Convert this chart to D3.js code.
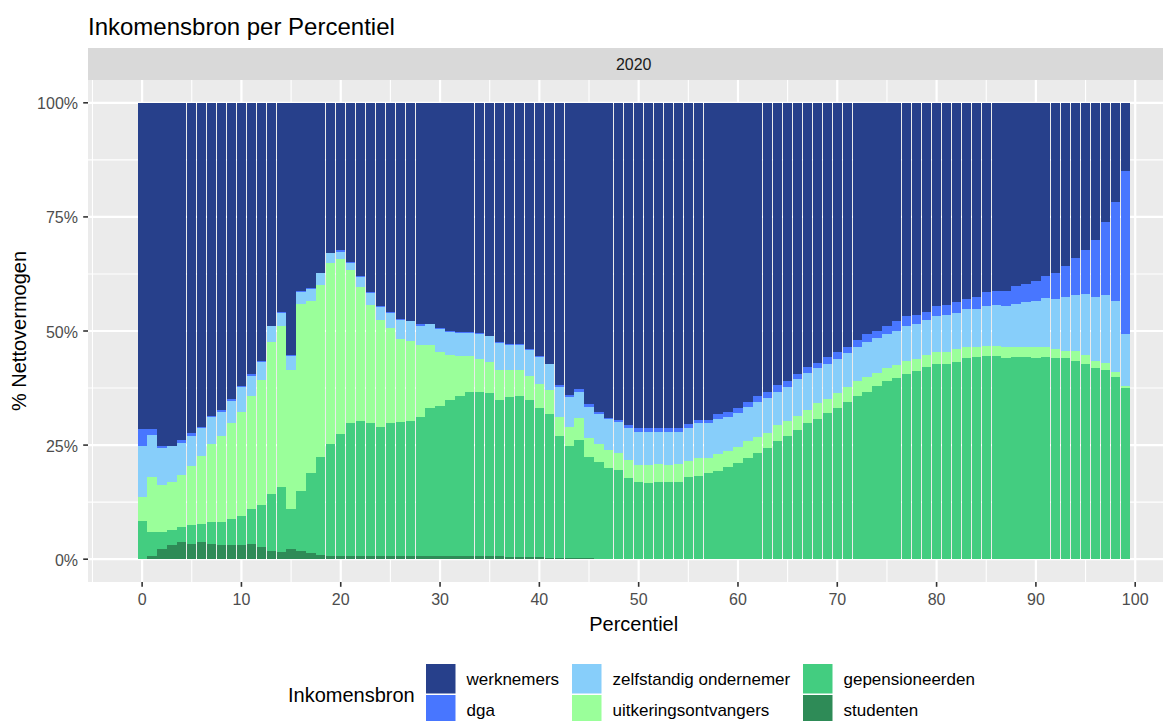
<!DOCTYPE html>
<html>
<head>
<meta charset="utf-8">
<script src="https://cdn.jsdelivr.net/npm/d3@7"></script>
<style>
  html, body { margin: 0; padding: 0; background: #fff; overflow: hidden; }
  svg { display: block; font-family: "Liberation Sans", Arial, sans-serif; }
</style>
</head>
<body>
<svg id="chart" width="1163" height="721"></svg>
<script>
// Inkomensbron per Percentiel - stacked (fill) bars, facet 2020
const percentiles = d3.range(0, 100);

const studenten = [0,0.7,2.2,3.1,3.7,3.4,3.7,3.4,3.1,3.1, 3.1,3.4,2.6,1.9,1.6,2.2,1.9,1.3,1.0,0.7,
  0.7,0.7,0.7,0.7,0.7,0.7,0.7,0.7,0.7,0.7, 0.7,0.7,0.7,0.7,0.7,0.7,0.7,0.45,0.45,0.45,
  0.45,0.3,0.3,0.3,0.3,0.3,0,0,0,0, 0,0,0,0,0,0,0,0,0,0,
  0,0,0,0,0,0,0,0,0,0, 0,0,0,0,0,0,0,0,0,0,
  0,0,0,0,0,0,0,0,0,0, 0,0,0,0,0,0,0,0,0,0];
const gepensioneerden = [8.3,5.2,3.7,3.4,3.4,4.1,4.0,4.8,5.1,5.7, 6.4,7.6,9.3,12.5,14.3,8.8,13.0,17.5,21.5,24.5,
  26.7,29.1,29.7,29.1,28.3,29.1,29.3,29.7,30.5,32.4, 32.9,34.2,35.1,36.0,36.0,35.7,34.2,35.0,35.4,34.5,
  32.7,31.5,26.7,24.6,25.8,22.2,21.2,20.0,19.5,17.7, 17.0,16.8,17.0,17.0,17.0,17.9,18.3,18.8,19.4,20.3,
  21.0,22.1,23.3,24.3,25.9,27.0,28.3,29.8,30.7,32.1, 33.1,34.5,35.8,36.7,38.0,39.1,39.6,40.6,41.3,42.1,
  42.8,42.8,43.3,44.0,44.3,44.5,44.5,44.0,44.3,44.3, 44.0,44.3,44.0,44.0,43.5,42.7,41.8,41.5,40.0,37.6];
const uitkeringsontvangers = [5.4,12.0,10.3,10.5,11.3,12.9,15.0,17.0,18.8,21.0, 22.8,24.8,27.4,33.3,35.2,30.5,41.0,37.8,37.7,39.8,
  38.4,33.5,29.2,25.9,23.4,20.8,18.4,17.4,15.8,13.9, 11.9,9.9,8.8,7.9,7.1,6.9,6.6,6.1,5.7,5.3,
  5.3,5.4,4.2,4.1,4.8,4.1,4.0,3.9,3.8,4.0, 3.6,3.8,3.8,3.6,3.8,3.7,3.8,3.3,3.6,3.4,
  3.5,3.7,3.4,3.3,3.5,3.3,3.1,2.9,3.5,2.9, 3.3,3.3,3.3,3.3,2.9,2.7,3.0,2.9,2.5,2.7,
  2.7,2.7,2.7,2.6,2.3,2.3,2.3,2.4,2.3,2.3, 2.4,2.3,2.0,1.7,2.2,2.1,1.7,1.4,1.1,0.4];
const zelfstandig = [11.2,9.3,8.1,7.7,7.1,6.6,6.1,6.0,5.3,4.9, 5.4,4.4,4.0,3.4,3.0,3.1,2.8,2.7,2.5,2.1,
  1.6,1.7,2.4,2.7,3.0,3.5,4.1,4.4,4.2,4.5, 4.9,5.1,5.1,5.1,5.5,5.6,5.8,5.5,5.5,5.7,
  6.0,5.6,6.6,6.5,5.8,6.8,6.6,6.8,6.7,7.1, 7.3,7.3,7.1,7.3,7.1,7.2,7.7,7.7,7.7,7.5,
  7.6,7.5,7.7,7.8,7.3,7.5,8.0,8.0,7.6,7.8, 7.5,7.3,7.5,7.5,7.5,7.6,7.5,7.7,7.7,7.7,
  7.8,8.0,7.9,8.2,8.2,8.6,8.9,9.0,9.4,9.7, 10.2,10.6,11.0,11.7,12.1,13.4,13.9,14.9,15.5,11.3];
const dga = [3.6,1.3,0.6,0.2,0.6,0.6,0.2,0.2,0.4,0.3, 0.2,0.3,0.2,0.1,0.1,0.1,0.1,0.1,0.1,0.1,
  0.3,0.2,0.1,0.1,0.1,0.1,0.1,0.1,0.3,0.1, 0.2,0.1,0.1,0.1,0.2,0.1,0.2,0.2,0.2,0.1,
  0.1,0.1,0.4,0.5,0.5,0.6,0.5,0.3,0.5,0.6, 0.8,0.8,0.8,0.8,0.8,0.8,0.7,0.7,1.1,1.1,
  1.1,1.2,1.4,1.2,1.5,1.3,1.2,1.4,1.1,1.4, 1.4,1.5,1.5,1.8,1.5,1.7,2.0,2.1,2.0,1.6,
  2.1,2.2,2.4,2.3,2.7,3.1,3.0,3.3,3.9,3.9, 4.3,4.8,5.7,6.8,8.2,9.6,12.5,16.0,21.7,35.7];
const werknemers = [71.5,71.5,75.1,75.1,73.9,72.4,71.0,68.6,67.3,65.0, 62.1,59.5,56.5,48.9,45.9,55.4,41.3,40.7,37.3,32.9,
  32.3,34.8,38.0,41.6,44.6,45.9,47.5,47.8,48.5,48.5, 49.4,50.1,50.3,50.3,50.5,51.1,52.5,52.8,52.8,54.1,
  55.6,57.2,61.8,64.0,62.8,66.0,67.7,69.0,69.5,70.6, 71.3,71.3,71.3,71.3,71.3,70.4,69.5,69.5,68.2,67.7,
  66.8,65.5,64.2,63.4,61.8,60.9,59.4,57.9,57.1,55.8, 54.7,53.4,51.9,50.7,50.1,48.9,47.9,46.7,46.5,45.9,
  44.6,44.3,43.7,42.9,42.5,41.5,41.3,41.3,40.1,39.8, 39.1,38.0,37.3,35.8,34.0,32.2,30.1,26.2,21.7,15.0];

// stack order bottom -> top
const seriesNames = ['studenten', 'gepensioneerden', 'uitkeringsontvangers', 'zelfstandig ondernemer', 'dga', 'werknemers'];
const seriesValues = [studenten, gepensioneerden, uitkeringsontvangers, zelfstandig, dga, werknemers];
const seriesColors = ['#2E8B57', '#43CD80', '#9AFF9A', '#87CEFA', '#4876FF', '#27408B'];
// legend order (column-major, 2 rows)
const legendOrder = ['werknemers', 'dga', 'zelfstandig ondernemer', 'uitkeringsontvangers', 'gepensioneerden', 'studenten'];

const xTicks = d3.range(0, 101, 10);
const yTicks = [0, 0.25, 0.5, 0.75, 1];

const rows = percentiles.map((p, i) => {
    const r = { p };
    seriesNames.forEach((s, k) => { r[s] = seriesValues[k][i]; });
    return r;
});
const stacked = d3.stack().keys(seriesNames).offset(d3.stackOffsetExpand)(rows);
const color = d3.scaleOrdinal().domain(seriesNames).range(seriesColors);

const svg = d3.select('#chart');
const panel = { left: 88, top: 80, right: 1179.4, bottom: 582 };

const x = d3.scaleLinear().domain([-5.45, 104.45]).range([panel.left, panel.right]);
const y = d3.scaleLinear().domain([-0.05, 1.05]).range([panel.bottom, panel.top]);

// title
svg.append('text').attr('x', 88).attr('y', 35)
    .attr('font-size', 24).attr('fill', '#000')
    .text('Inkomensbron per Percentiel');

// strip
svg.append('rect').attr('x', panel.left).attr('y', 48)
    .attr('width', panel.right - panel.left).attr('height', panel.top - 48)
    .attr('fill', '#D9D9D9');
svg.append('text').attr('x', (panel.left + panel.right) / 2).attr('y', 64)
    .attr('dominant-baseline', 'central').attr('text-anchor', 'middle')
    .attr('font-size', 16).attr('fill', '#1A1A1A').text('2020');

// panel + grid
svg.append('rect').attr('x', panel.left).attr('y', panel.top)
    .attr('width', panel.right - panel.left).attr('height', panel.bottom - panel.top)
    .attr('fill', '#EBEBEB');
const grid = svg.append('g');
grid.selectAll('.xminor').data(d3.range(-5, 106, 10)).join('line')
    .attr('x1', d => x(d)).attr('x2', d => x(d))
    .attr('y1', panel.top).attr('y2', panel.bottom)
    .attr('stroke', '#fff').attr('stroke-width', 1.1);
grid.selectAll('.yminor').data([0.125, 0.375, 0.625, 0.875]).join('line')
    .attr('y1', d => y(d)).attr('y2', d => y(d))
    .attr('x1', panel.left).attr('x2', panel.right)
    .attr('stroke', '#fff').attr('stroke-width', 1.1);
grid.selectAll('.xmajor').data(xTicks).join('line')
    .attr('x1', d => x(d)).attr('x2', d => x(d))
    .attr('y1', panel.top).attr('y2', panel.bottom)
    .attr('stroke', '#fff').attr('stroke-width', 2.2);
grid.selectAll('.ymajor').data(yTicks).join('line')
    .attr('y1', d => y(d)).attr('y2', d => y(d))
    .attr('x1', panel.left).attr('x2', panel.right)
    .attr('stroke', '#fff').attr('stroke-width', 2.2);

// bars
const barW = 0.93;
svg.append('g').attr('shape-rendering', 'crispEdges')
    .selectAll('g').data(stacked).join('g')
    .attr('fill', d => color(d.key))
    .selectAll('rect').data(d => d).join('rect')
    .attr('x', d => x(d.data.p - barW / 2))
    .attr('width', x(barW) - x(0))
    .attr('y', d => y(d[1]))
    .attr('height', d => y(d[0]) - y(d[1]));

// axes
const axisG = svg.append('g');
axisG.selectAll('.yt').data(yTicks).join('line')
    .attr('x1', panel.left - 4.8).attr('x2', panel.left)
    .attr('y1', d => y(d)).attr('y2', d => y(d))
    .attr('stroke', '#333').attr('stroke-width', 1.6);
axisG.selectAll('.yl').data(yTicks).join('text')
    .attr('x', 78).attr('y', d => y(d) + 1)
    .attr('text-anchor', 'end').attr('dominant-baseline', 'central')
    .attr('font-size', 16).attr('fill', '#4D4D4D')
    .text(d => d3.format('.0%')(d));
axisG.selectAll('.xt').data(xTicks).join('line')
    .attr('x1', d => x(d)).attr('x2', d => x(d))
    .attr('y1', panel.bottom).attr('y2', panel.bottom + 4.8)
    .attr('stroke', '#333').attr('stroke-width', 1.6);
axisG.selectAll('.xl').data(xTicks).join('text')
    .attr('x', d => x(d)).attr('y', 605)
    .attr('text-anchor', 'middle')
    .attr('font-size', 16).attr('fill', '#4D4D4D')
    .text(d => d);

svg.append('text').attr('x', (panel.left + panel.right) / 2).attr('y', 631)
    .attr('text-anchor', 'middle').attr('font-size', 20).attr('fill', '#000')
    .text('Percentiel');
svg.append('text')
    .attr('transform', `translate(25.5,${(panel.top + panel.bottom) / 2}) rotate(-90)`)
    .attr('text-anchor', 'middle').attr('font-size', 20).attr('fill', '#000')
    .text('% Nettovermogen');

// legend
const legend = svg.append('g');
legend.append('text').attr('x', 288).attr('y', 695)
    .attr('dominant-baseline', 'central').attr('font-size', 20).attr('fill', '#000')
    .text('Inkomensbron');
const colX = [426, 572, 803];
const rowY = [664, 695];
const keySize = 29.5;
const items = legend.selectAll('.item').data(legendOrder).join('g')
    .attr('transform', (d, i) => `translate(${colX[Math.floor(i / 2)]},${rowY[i % 2]})`);
items.append('rect').attr('width', keySize).attr('height', keySize)
    .attr('fill', d => color(d));
items.append('text').attr('x', keySize + 11).attr('y', keySize / 2 + 1)
    .attr('dominant-baseline', 'central').attr('font-size', 17).attr('fill', '#000')
    .text(d => d);
</script>
</body>
</html>
